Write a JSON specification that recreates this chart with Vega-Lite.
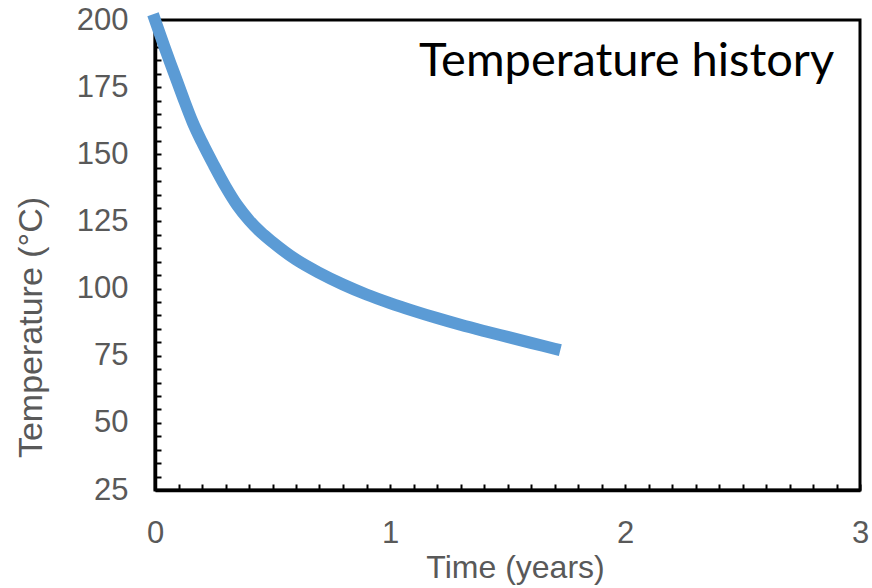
{
  "$schema": "https://vega.github.io/schema/vega-lite/v6.json",
  "width": 705,
  "height": 470,
  "autosize": {"type": "none"},
  "padding": {"left": 155, "top": 20, "right": 12, "bottom": 98},
  "background": "white",
  "config": {
    "view": {"stroke": "black", "strokeWidth": 3},
    "font": "Liberation Sans",
    "axis": {
      "grid": false,
      "domainColor": "black",
      "domainWidth": 3.5,
      "tickColor": "black",
      "tickWidth": 2,
      "tickSize": -6,
      "tickCount": 200,
      "labelFlush": false,
      "labelFont": "Liberation Sans",
      "labelFontSize": 31,
      "labelColor": "#595959",
      "titleFont": "Liberation Sans",
      "titleFontSize": 31,
      "titleFontWeight": "normal",
      "titleColor": "#595959",
      "labelOverlap": false
    }
  },
  "data": {
    "values": [
      {"t": 0.00, "T": 200},
      {"t": 0.04, "T": 190},
      {"t": 0.08, "T": 180.5},
      {"t": 0.12, "T": 171},
      {"t": 0.16, "T": 162},
      {"t": 0.20, "T": 154.5},
      {"t": 0.25, "T": 146},
      {"t": 0.30, "T": 138},
      {"t": 0.35, "T": 131},
      {"t": 0.40, "T": 125.5},
      {"t": 0.45, "T": 121},
      {"t": 0.50, "T": 117.3},
      {"t": 0.60, "T": 110.8},
      {"t": 0.70, "T": 105.8},
      {"t": 0.80, "T": 101.5},
      {"t": 0.90, "T": 97.8},
      {"t": 1.00, "T": 94.6},
      {"t": 1.10, "T": 91.7},
      {"t": 1.20, "T": 89},
      {"t": 1.30, "T": 86.5},
      {"t": 1.40, "T": 84.2},
      {"t": 1.50, "T": 82},
      {"t": 1.60, "T": 79.8},
      {"t": 1.70, "T": 77.6}
    ]
  },
  "layer": [
    {
      "mark": {"type": "line", "color": "#5B9BD5", "strokeWidth": 12, "strokeCap": "square", "interpolate": "monotone", "clip": false},
      "encoding": {
        "x": {
          "field": "t", "type": "quantitative",
          "scale": {"domain": [0, 3], "nice": false, "zero": false},
          "axis": {
            "title": "Time (years)",
            "values": [0,0.1,0.2,0.3,0.4,0.5,0.6,0.7,0.8,0.9,1,1.1,1.2,1.3,1.4,1.5,1.6,1.7,1.8,1.9,2,2.1,2.2,2.3,2.4,2.5,2.6,2.7,2.8,2.9,3],
            "labelExpr": "datum.value % 1 === 0 ? format(datum.value, 'd') : ''",
            "labelPadding": 34,
            "titlePadding": 4,
            "titleFontSize": 32,
            "titleX": 360
          }
        },
        "y": {
          "field": "T", "type": "quantitative",
          "scale": {"domain": [25, 200], "nice": false, "zero": false},
          "axis": {
            "title": "Temperature (°C)",
            "values": [25,30,35,40,45,50,55,60,65,70,75,80,85,90,95,100,105,110,115,120,125,130,135,140,145,150,155,160,165,170,175,180,185,190,195,200],
            "labelExpr": "datum.value % 25 === 0 ? format(datum.value, 'd') : ''",
            "labelPadding": 33,
            "titlePadding": 28,
            "titleFontSize": 34,
            "titleY": 307
          }
        }
      }
    },
    {
      "data": {"values": [{"t": 2.89, "T": 184.5, "label": "Temperature history"}]},
      "mark": {"type": "text", "align": "right", "baseline": "middle", "font": "Lato", "fontSize": 47, "color": "black"},
      "encoding": {
        "x": {"field": "t", "type": "quantitative"},
        "y": {"field": "T", "type": "quantitative"},
        "text": {"field": "label"}
      }
    }
  ]
}
